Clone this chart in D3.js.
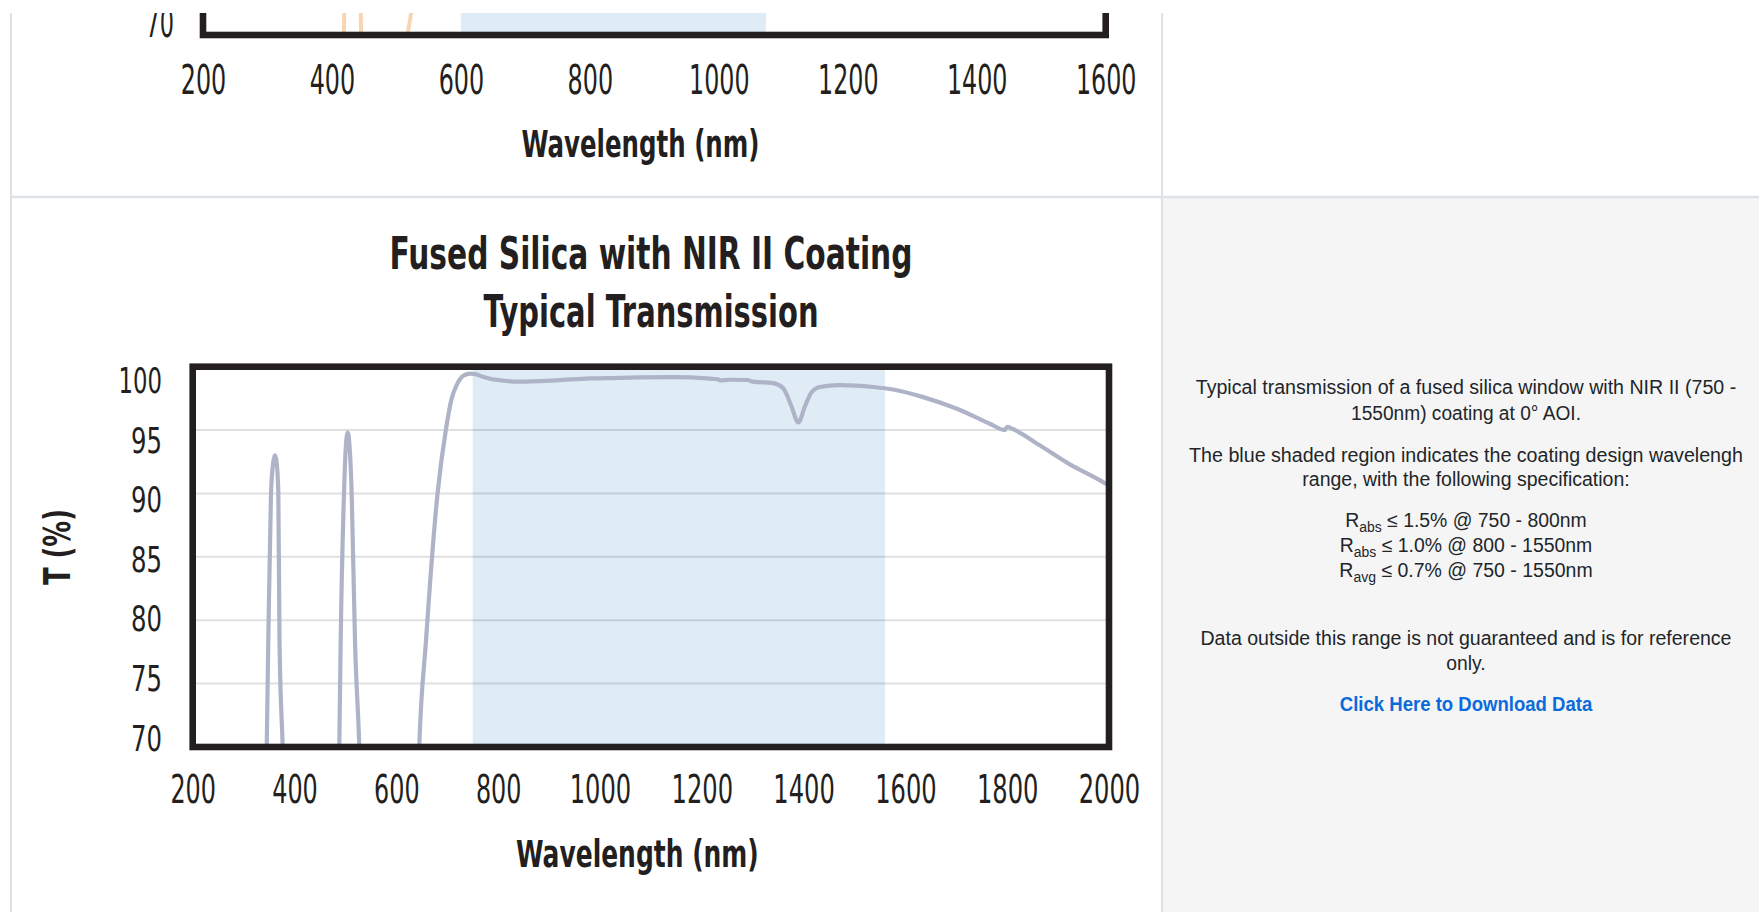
<!DOCTYPE html>
<html><head><meta charset="utf-8">
<script src="https://cdn.jsdelivr.net/npm/d3@7"></script>
<style>html,body{margin:0;padding:0;background:#fff;overflow:hidden}</style>
</head><body><svg id="c" width="1759" height="912"></svg>
<script>
// ---------------- DATA ----------------
// Main chart: Fused Silica with NIR II Coating, typical transmission
const wavelength = [341.5,345.4,348.5,353.8,358,361.7,365,368.2,370.5,376.8,384,
  435,
  485,488,490.7,497.2,501,504.5,508,512.3,518.8,527.3,533,
  590,
  638,645,658.3,681,697.6,708.8,718.6,731.6,745,755,770,784,810,836,870,915,980,1040,1080,1144,1210,1232,1236,1255,1290,1300,1340,1360,1376,1389.6,1403,1416,1432,1470,1537,1576,1635,1700,1766,1795,1800,1810,1864,1923,1956,1992,2000];
const transmission = [60,70,78.4,90,92.4,93.0,92.4,90,78.4,70,60,
  40,
  60,70,78.4,90,93.8,94.8,93.8,90,78.4,70,62,
  40,
  60,70,78.4,90,95.1,97.5,98.55,99.28,99.45,99.42,99.2,99.05,98.9,98.82,98.85,98.92,99.08,99.12,99.16,99.18,99.08,99.0,98.92,98.97,98.95,98.82,98.7,98.3,96.9,95.6,96.9,98.0,98.4,98.55,98.4,98.2,97.6,96.7,95.5,95.0,95.25,95.1,93.8,92.3,91.6,90.8,90.6];
const designRange = [750, 1560];
const xTicks = [200,400,600,800,1000,1200,1400,1600,1800,2000];
const yTicks = [70,75,80,85,90,95,100];
const gridValues = [75,80,85,90,95];
const titleLines = ["Fused Silica with NIR II Coating", "Typical Transmission"];
const xTitle = "Wavelength (nm)";
const yTitle = "T (%)";

// Previous chart (only its bottom strip is visible at the top of the page)
const prevWavelength = [400,418,419.2,425,432,438,444.5,445.7,470,505,516,522,530,545];
const prevTransmission = [50,69,72,80,88,80,72,69,45,50,69.7,71.5,74,80];
const prevDesignRange = [600, 1073];
const prevXTicks = [200,400,600,800,1000,1200,1400,1600];
const prevYTicks = [70];

// Side panel text
const noteLines = [
  "Typical transmission of a fused silica window with NIR II (750 -",
  "1550nm) coating at 0° AOI.",
  "The blue shaded region indicates the coating design wavelengh",
  "range, with the following specification:"
];
const specLines = [
  ["R", "abs", " ≤ 1.5% @ 750 - 800nm"],
  ["R", "abs", " ≤ 1.0% @ 800 - 1550nm"],
  ["R", "avg", " ≤ 0.7% @ 750 - 1550nm"]
];
const footLines = ["Data outside this range is not guaranteed and is for reference", "only."];
const linkText = "Click Here to Download Data";

// ---------------- DRAWING ----------------
const W = 1759, H = 912;
const COND = '"Liberation Sans Narrow","DejaVu Sans Condensed","Roboto Condensed","Liberation Sans",Arial,sans-serif';
const SANS = '"Liberation Sans",Arial,Helvetica,sans-serif';
const INK = '#231f20';
const svg = d3.select('#c');

svg.append('rect').attr('width', W).attr('height', H).attr('fill', '#fff');
// side panel background (lower row)
svg.append('rect').attr('x', 1163).attr('y', 198).attr('width', W - 1163).attr('height', H - 198).attr('fill', '#f5f5f5');

const defs = svg.append('defs');

function fitText(sel, len) {
  sel.attr('textLength', len).attr('lengthAdjust', 'spacingAndGlyphs');
}

// ===== Previous chart strip =====
const xP = d3.scaleLinear().domain([200, 1600]).range([203, 1105.7]);
const yP = d3.scaleLinear().domain([70, 100]).range([35, 35 - 380]);
const yPLab = d3.scaleLinear().domain([70, 100]).range([36.7, 36.7 - 357]);

defs.append('clipPath').attr('id', 'clipPrev').append('rect')
  .attr('x', xP(200)).attr('y', 13).attr('width', xP(1600) - xP(200)).attr('height', yP(70) - 13);

const gPrev = svg.append('g');
gPrev.append('rect').attr('clip-path', 'url(#clipPrev)')
  .attr('x', xP(prevDesignRange[0])).attr('y', yP(100))
  .attr('width', xP(prevDesignRange[1]) - xP(prevDesignRange[0]))
  .attr('height', yP(70) - yP(100)).attr('fill', '#dfecf6');
gPrev.append('path').attr('clip-path', 'url(#clipPrev)')
  .datum(prevWavelength.map((w, i) => [w, prevTransmission[i]]))
  .attr('d', d3.line().x(d => xP(d[0])).y(d => yP(d[1])))
  .attr('fill', 'none').attr('stroke', '#f9d4b3').attr('stroke-width', 4);
gPrev.append('rect')
  .attr('x', xP(200)).attr('y', yP(100))
  .attr('width', xP(1600) - xP(200)).attr('height', yP(70) - yP(100))
  .attr('fill', 'none').attr('stroke', INK).attr('stroke-width', 6.6);

const gxP = gPrev.append('g').attr('transform', 'translate(0,93.5)')
  .call(d3.axisBottom(xP).tickValues(prevXTicks).tickSize(0).tickPadding(0).tickFormat(d3.format('d')));
gxP.select('.domain').remove();
gxP.selectAll('text').attr('y', 0).attr('dy', 0).attr('font-size', 41)
  .attr('font-family', COND).attr('fill', INK)
  .each(function (d) { fitText(d3.select(this), String(d).length === 4 ? 60.5 : 45.5); });

const gyP = gPrev.append('g').attr('transform', 'translate(174,0)')
  .call(d3.axisLeft(yPLab).tickValues(prevYTicks).tickSize(0).tickPadding(0));
gyP.select('.domain').remove();
gyP.selectAll('text').attr('x', 0).attr('dy', 0).attr('font-size', 41)
  .attr('font-family', COND).attr('fill', INK)
  .each(function (d) { fitText(d3.select(this), String(d).length === 3 ? 43 : 28.5); });

const tP = gPrev.append('text').attr('x', 640.5).attr('y', 157).attr('text-anchor', 'middle')
  .attr('font-family', COND).attr('font-weight', 'bold').attr('font-size', 37).attr('fill', INK)
  .text(xTitle);
fitText(tP, 238);

// ===== Main chart =====
const x = d3.scaleLinear().domain([200, 2000]).range([192.7, 1109]);
const y = d3.scaleLinear().domain([70, 100]).range([747, 366.7]);
const yLab = d3.scaleLinear().domain([70, 100]).range([750, 392.7]);

defs.append('clipPath').attr('id', 'clipMain').append('rect')
  .attr('x', x(200)).attr('y', y(100)).attr('width', x(2000) - x(200)).attr('height', y(70) - y(100));

const g = svg.append('g');
// title
const tBase = [268.5, 326.5], tLen = [523, 335];
titleLines.forEach((s, i) => {
  const t = g.append('text').attr('x', 651).attr('y', tBase[i]).attr('text-anchor', 'middle')
    .attr('font-family', COND).attr('font-weight', 'bold').attr('font-size', 45).attr('fill', INK)
    .text(s);
  fitText(t, tLen[i]);
});

// design range shading
g.append('rect')
  .attr('x', x(designRange[0])).attr('y', y(100))
  .attr('width', x(designRange[1]) - x(designRange[0])).attr('height', y(70) - y(100))
  .attr('fill', '#dfecf6');

// grid
g.selectAll('line.grid').data(gridValues).enter().append('line')
  .attr('x1', x(200)).attr('x2', x(2000))
  .attr('y1', d => y(d)).attr('y2', d => y(d))
  .attr('stroke', 'rgba(0,0,0,0.12)').attr('stroke-width', 2);

// transmission curve
g.append('path').attr('clip-path', 'url(#clipMain)')
  .datum(wavelength.map((w, i) => [w, transmission[i]]))
  .attr('d', d3.line().x(d => x(d[0])).y(d => y(d[1])).curve(d3.curveMonotoneX))
  .attr('fill', 'none').attr('stroke', '#aeb3c8').attr('stroke-width', 4.2)
  .attr('stroke-linejoin', 'round').attr('stroke-linecap', 'round');

// frame
g.append('rect')
  .attr('x', x(200)).attr('y', y(100))
  .attr('width', x(2000) - x(200)).attr('height', y(70) - y(100))
  .attr('fill', 'none').attr('stroke', INK).attr('stroke-width', 6.6);

// x axis labels
const gx = g.append('g').attr('transform', 'translate(0,803)')
  .call(d3.axisBottom(x).tickValues(xTicks).tickSize(0).tickPadding(0).tickFormat(d3.format('d')));
gx.select('.domain').remove();
gx.selectAll('text').attr('y', 0).attr('dy', 0).attr('font-size', 39)
  .attr('font-family', COND).attr('fill', INK)
  .each(function (d) { fitText(d3.select(this), String(d).length === 4 ? 61.5 : 45.5); });

// y axis labels
const gy = g.append('g').attr('transform', 'translate(162,0)')
  .call(d3.axisLeft(yLab).tickValues(yTicks).tickSize(0).tickPadding(0));
gy.select('.domain').remove();
gy.selectAll('text').attr('x', 0).attr('dy', 0).attr('font-size', 36)
  .attr('font-family', COND).attr('fill', INK)
  .each(function (d) { fitText(d3.select(this), String(d).length === 3 ? 43.4 : 31); });

// axis titles
const xt = g.append('text').attr('x', 637.4).attr('y', 867).attr('text-anchor', 'middle')
  .attr('font-family', COND).attr('font-weight', 'bold').attr('font-size', 37).attr('fill', INK)
  .text(xTitle);
fitText(xt, 242.7);
const yt = g.append('text').attr('transform', 'translate(70,547) rotate(-90)').attr('text-anchor', 'middle')
  .attr('font-family', COND).attr('font-weight', 'bold').attr('font-size', 38).attr('fill', INK)
  .text(yTitle);
fitText(yt, 76);

// ===== Side panel text =====
const cx = 1466;
const noteBase = [394, 420, 461.7, 486], noteLen = [540.5, 230, 553.8, 327.4];
noteLines.forEach((s, i) => {
  const t = svg.append('text').attr('x', cx).attr('y', noteBase[i]).attr('text-anchor', 'middle')
    .attr('font-family', SANS).attr('font-size', 19.5).attr('fill', '#212529').text(s);
  fitText(t, noteLen[i]);
});
const specBase = [527.3, 552.3, 577], specLen = [241.5, 252.5, 253.3];
specLines.forEach((parts, i) => {
  const t = svg.append('text').attr('x', cx).attr('y', specBase[i]).attr('text-anchor', 'middle')
    .attr('font-family', SANS).attr('font-size', 19.5).attr('fill', '#212529');
  t.append('tspan').text(parts[0]);
  t.append('tspan').attr('font-size', 14).attr('dy', 4.5).text(parts[1]);
  t.append('tspan').attr('dy', -4.5).text(parts[2]);
  fitText(t, specLen[i]);
});
const footBase = [645, 670], footLen = [531, 39.4];
footLines.forEach((s, i) => {
  const t = svg.append('text').attr('x', cx).attr('y', footBase[i]).attr('text-anchor', 'middle')
    .attr('font-family', SANS).attr('font-size', 19.5).attr('fill', '#212529').text(s);
  fitText(t, footLen[i]);
});
const lk = svg.append('text').attr('x', cx).attr('y', 710.5).attr('text-anchor', 'middle')
  .attr('font-family', SANS).attr('font-weight', 'bold').attr('font-size', 19.5).attr('fill', '#0b6bdb')
  .text(linkText);
fitText(lk, 252.5);

// ===== page borders =====
svg.append('line').attr('x1', 11).attr('x2', 11).attr('y1', 0).attr('y2', H).attr('stroke', '#dee2e6').attr('stroke-width', 2);
svg.append('line').attr('x1', 1162).attr('x2', 1162).attr('y1', 0).attr('y2', H).attr('stroke', '#dee2e6').attr('stroke-width', 2);
svg.append('line').attr('x1', 11).attr('x2', W).attr('y1', 197).attr('y2', 197).attr('stroke', '#dee2e6').attr('stroke-width', 2.5);

// top strip cut-off (content scrolled under)
svg.append('rect').attr('x', 0).attr('y', 0).attr('width', W).attr('height', 13).attr('fill', '#fff');
</script>
</body></html>
